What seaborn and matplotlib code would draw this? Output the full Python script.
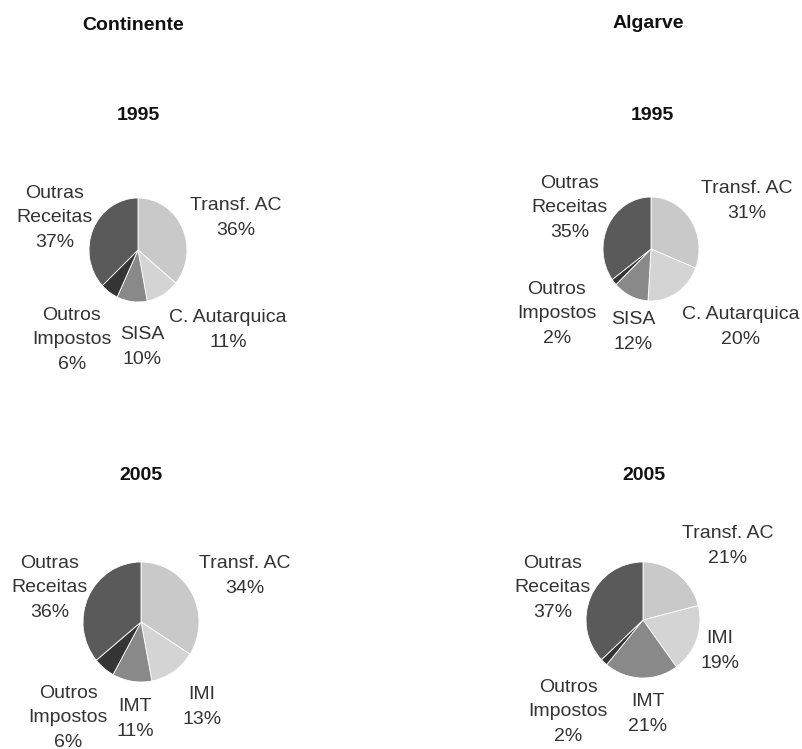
import numpy as np
import pandas as pd
import seaborn as sns
import matplotlib.pyplot as plt

# ---------------- data ----------------
regions = ["Continente", "Algarve"]
years = ["1995", "2005"]

labels_1995 = ["Transf. AC", "C. Autarquica", "SISA", "Outros\nImpostos", "Outras\nReceitas"]
labels_2005 = ["Transf. AC", "IMI", "IMT", "Outros\nImpostos", "Outras\nReceitas"]

continente_1995 = [36, 11, 10, 6, 37]
algarve_1995 = [31, 20, 12, 2, 35]
continente_2005 = [34, 13, 11, 6, 36]
algarve_2005 = [21, 19, 21, 2, 37]

slice_colors = ["#c9c9c9", "#d4d4d4", "#898989", "#353535", "#5a5a5a"]

# ---------------- layout (pixels, y from top) ----------------
W, H = 803, 749
# pie centre x, centre y, radius x, radius y
pie_boxes = {
    ("Continente", "1995"): (138, 250, 49, 52),
    ("Algarve", "1995"): (651, 249, 48, 52),
    ("Continente", "2005"): (141, 622, 58, 60),
    ("Algarve", "2005"): (643, 620, 57, 58),
}
# label centres in pixels, same order as the slices
label_pos = {
    ("Continente", "1995"): [(236, 218), (228, 330), (142, 347), (72, 340), (55, 218)],
    ("Algarve", "1995"): [(747, 201), (741, 327), (633, 332), (557, 314), (570, 208)],
    ("Continente", "2005"): [(245, 576), (202, 707), (135, 719), (68, 718), (50, 588)],
    ("Algarve", "2005"): [(728, 546), (720, 651), (648, 714), (568, 712), (553, 588)],
}
region_titles = {"Continente": (133, 26), "Algarve": (648, 24)}
year_titles = {
    ("Continente", "1995"): (138, 115),
    ("Algarve", "1995"): (652, 115),
    ("Continente", "2005"): (141, 476),
    ("Algarve", "2005"): (644, 476),
}

values = {
    ("Continente", "1995"): continente_1995,
    ("Algarve", "1995"): algarve_1995,
    ("Continente", "2005"): continente_2005,
    ("Algarve", "2005"): algarve_2005,
}
slice_labels = {"1995": labels_1995, "2005": labels_2005}

sns.set_theme(style="white")
plt.rcParams["font.family"] = ["Liberation Sans", "DejaVu Sans"]

fig = plt.figure(figsize=(W / 100, H / 100), dpi=100)
fig.patch.set_facecolor("white")


def fx(x):
    return x / W


def fy(y):
    return 1 - y / H


for reg in regions:
    x, y = region_titles[reg]
    fig.text(fx(x), fy(y), reg, ha="center", va="center",
             fontsize=14, fontweight="bold", color="#111111")

for key, vals in values.items():
    cx, cy, rx, ry = pie_boxes[key]
    ax = fig.add_axes([fx(cx - rx), fy(cy + ry), 2 * rx / W, 2 * ry / H])
    ax.pie(vals, colors=slice_colors, startangle=90, counterclock=False,
           wedgeprops=dict(edgecolor="white", linewidth=0.6))
    ax.set_aspect("auto")
    ax.set_xlim(-1, 1)
    ax.set_ylim(-1, 1)
    ax.axis("off")

    tx, ty = year_titles[key]
    fig.text(fx(tx), fy(ty), key[1], ha="center", va="center",
             fontsize=14, fontweight="bold", color="#111111")

    for lab, v, (lx, ly) in zip(slice_labels[key[1]], vals, label_pos[key]):
        fig.text(fx(lx), fy(ly), f"{lab}\n{v}%", ha="center", va="center",
                 fontsize=14, color="#333333", linespacing=1.55)

fig.savefig("out.png", dpi=100, facecolor="white")
